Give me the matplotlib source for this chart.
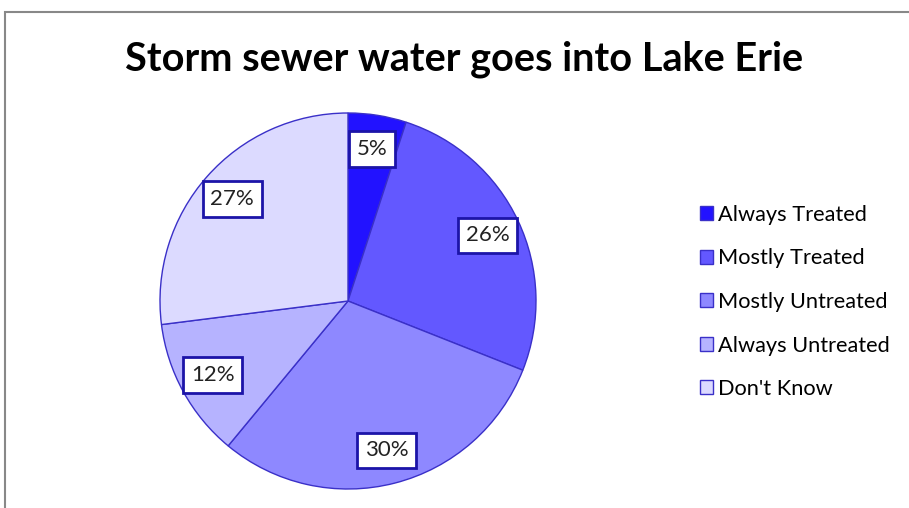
import matplotlib.pyplot as plt
from matplotlib.patches import Rectangle

categories = ["Always Treated", "Mostly Treated", "Mostly Untreated",
              "Always Untreated", "Don't Know"]
percents = [5, 26, 30, 12, 27]
colors = ["#2212ff", "#6358ff", "#8e88ff", "#b6b3ff", "#dcdaff"]
title = "Storm sewer water goes into Lake Erie"

plt.rcParams["font.family"] = ["Lato", "DejaVu Sans"]

fig = plt.figure(figsize=(9.09, 5.08), dpi=100)

# grey frame of the chart area (cut off on the right and bottom)
fig.patches.append(Rectangle((5 / 909, -0.1), 1.2, 1 - 12 / 508 + 0.1,
                             transform=fig.transFigure, fill=False,
                             edgecolor="#888888", linewidth=1.5))

ax = fig.add_axes([160 / 909, 19 / 508, 376 / 909, 376 / 508])
wedges, texts, autotexts = ax.pie(
    percents,
    colors=colors,
    startangle=90,
    counterclock=False,
    autopct="%d%%",
    pctdistance=0.82,
    wedgeprops=dict(edgecolor="#3a30c8", linewidth=1.0),
    textprops=dict(fontsize=16, color="#222222"),
)
for t in autotexts:
    t.set_bbox(dict(boxstyle="square,pad=0.35", facecolor="white",
                    edgecolor="#1c14a8", linewidth=2))
ax.set_xlim(-1, 1)
ax.set_ylim(-1, 1)
ax.set_aspect("equal")

fig.text(0.51, 1 - 59 / 508, title, ha="center", va="center",
         fontsize=28.5, fontweight="bold")

fig.legend(wedges, categories, loc="upper left",
           bbox_to_anchor=(689 / 909, 1 - 194 / 508),
           frameon=False, fontsize=15.7, handlelength=0.6, handleheight=0.6,
           handletextpad=0.25, labelspacing=1.08, borderpad=0)

fig.savefig("out.png", dpi=100)
